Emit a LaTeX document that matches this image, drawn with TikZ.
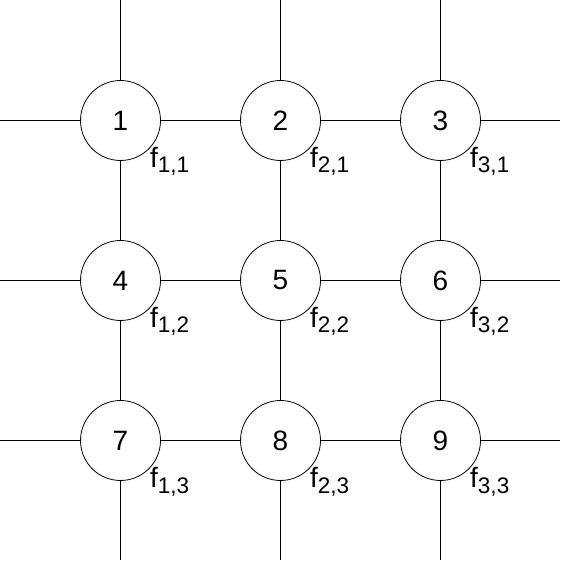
\documentclass[tikz,border=0pt]{standalone}
\usepackage{fontspec}
\setmainfont{Liberation Sans}
\usetikzlibrary{calc}
\begin{document}
\begin{tikzpicture}[x=1pt,y=1pt,
  cell/.style={circle,draw,line width=0.8pt,fill=white,minimum size=80pt,inner sep=0pt,font=\fontsize{28}{28}\selectfont},
  wire/.style={line width=0.8pt},
  flabel/.style={anchor=base west,inner sep=0pt,font=\fontsize{28}{28}\selectfont}]
\useasboundingbox (0,0) rectangle (562,562);
% nodes
\foreach \r in {1,2,3}{
  \foreach \c in {1,2,3}{
    \pgfmathtruncatemacro{\n}{(\r-1)*3+\c}
    \coordinate (p\n) at ({120.5+160*(\c-1)},{562-120.5-160*(\r-1)});
  }
}
% edge coordinates
\foreach \i in {1,2,3}{
  \coordinate (L\i) at (0,{562-120.5-160*(\i-1)});
  \coordinate (R\i) at (560,{562-120.5-160*(\i-1)});
  \coordinate (T\i) at ({120.5+160*(\i-1)},562);
  \coordinate (B\i) at ({120.5+160*(\i-1)},2);
}
\draw[wire] (L1) -- (R1);
\draw[wire] (L2) -- (R2);
\draw[wire] (L3) -- (R3);
\draw[wire] (T1) -- (B1);
\draw[wire] (T2) -- (B2);
\draw[wire] (T3) -- (B3);
\foreach \n in {1,...,9}{
  \node[cell] (n\n) at (p\n) {\n};
}
\foreach \r in {1,2,3}{
  \foreach \c in {1,2,3}{
    \pgfmathtruncatemacro{\n}{(\r-1)*3+\c}
    \node[flabel] (f\n) at ($(p\n)+(29.5,-47.5)$) {f\raisebox{-5pt}{\fontsize{22.5}{22.5}\selectfont \c,\r}};
  }
}
\end{tikzpicture}
\end{document}
